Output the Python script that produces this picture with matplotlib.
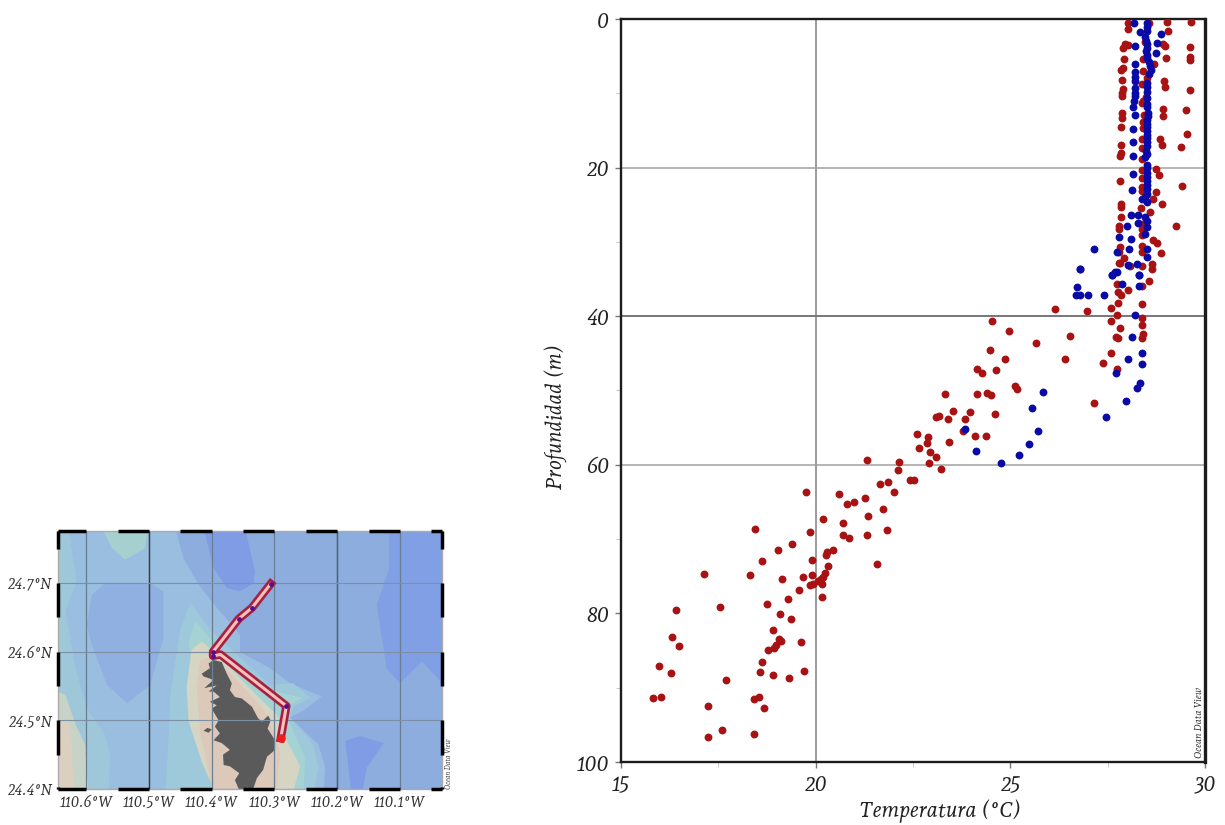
import matplotlib
matplotlib.use("Agg")
import matplotlib.pyplot as plt
from matplotlib.ticker import MultipleLocator

plt.rcParams['font.family'] = ['Andada Pro', 'Liberation Serif', 'DejaVu Serif']
plt.rcParams['font.style'] = 'italic'

red_pairs = [
(19.74,63.6),(18.45,68.6),(20.60,63.9),(20.80,65.3),(20.98,65.0),(21.26,64.5),(21.66,62.6),(21.87,62.3),(22.02,63.7),(21.74,65.9),
(21.34,66.85),(20.18,67.3),(20.69,67.9),(19.86,69.0),(20.69,69.4),(20.85,69.8),(21.33,69.4),(21.83,68.8),(19.40,70.7),(19.03,71.4),
(18.63,72.9),(19.91,72.8),(20.45,71.5),(20.28,71.8),(20.27,72.2),(20.31,73.6),(21.58,73.3),(17.14,74.7),(18.32,74.8),(19.13,75.4),
(19.68,75.1),(19.91,74.8),(20.24,74.5),(20.2,75.1),(20.13,75.4),(20.07,75.7),(20.15,76.05),(19.94,76.1),(19.85,76.2),(19.57,76.9),
(19.29,78.1),(20.16,77.8),(18.76,78.7),(17.53,79.2),(16.4,79.6),(19.08,80.1),(19.37,80.8),(18.9,82.2),(16.3,83.2),(16.5,84.4),
(19.07,83.4),(19.12,83.7),(18.97,84.3),(18.93,84.7),(18.78,84.9),(19.62,83.9),(18.63,86.5),(15.98,87.1),(18.56,87.9),(16.29,88.0),
(18.9,88.3),(19.32,88.7),(19.69,87.8),(17.69,89.0),(16.02,91.2),(15.83,91.4),(18.54,91.2),(18.42,91.5),(17.23,92.5),(18.68,92.7),
(17.59,95.7),(17.23,96.6),(18.42,96.2),
(26.15,39.0),(24.54,40.7),(24.96,42.0),(25.67,43.6),(24.48,44.5),(24.87,45.8),(24.15,47.1),(24.27,47.6),(24.64,47.3),(25.12,49.4),
(25.16,49.8),(23.33,50.5),(24.14,50.5),(24.41,50.4),(24.5,50.6),(23.54,52.8),(23.97,52.9),(24.6,53.1),(23.08,53.5),(23.18,53.4),
(23.41,53.8),(23.83,53.9),(23.78,55.5),(22.59,55.9),(22.88,56.3),(22.87,57.1),(24.09,56.1),(24.37,56.1),(23.43,56.9),(22.65,57.8),
(22.93,58.3),(23.08,59.0),(21.33,59.3),(22.15,59.6),(22.91,59.7),(22.12,60.7),(23.22,60.5),(22.42,62.0),(22.52,62.1),
(26.96,39.35),(27.58,38.9),(27.77,38.2),(27.75,39.8),(27.59,40.7),(28.38,38.4),(28.38,40.3),(28.38,41.2),(27.81,41.6),(28.41,42.4),
(27.72,42.85),(27.76,43.0),(28.38,43.0),(26.52,42.6),(26.41,45.7),(27.59,45.0),(27.37,46.3),(27.74,47.1),(27.14,51.7),(28.55,35.2),
(28.01,36.5),(27.76,36.8),(27.84,37.1),(27.75,35.6),(28.38,36.0),(27.82,32.9),(28.08,33.3),(28.38,33.25),(28.65,33.0),(28.63,33.6),
(28.02,0.5),(28.55,0.5),(29.02,0.4),(29.63,0.4),(28.02,1.3),(29.04,1.6),(28.46,3.05),(27.95,3.3),(28.01,3.5),(27.89,3.85),
(28.93,3.3),(28.98,3.7),(29.62,3.8),(29.62,5.1),(29.62,5.5),(27.93,5.4),(28.42,5.4),(28.99,5.3),(28.7,6.0),(27.89,6.6),
(27.84,6.9),(28.42,6.95),(28.52,8.0),(27.88,8.2),(28.95,8.3),(28.39,8.75),(28.98,9.1),(27.89,9.4),(29.62,9.5),(27.86,9.9),
(27.86,10.3),(28.49,10.5),(28.42,11.0),(28.38,11.25),(28.91,12.1),(29.5,12.25),(28.91,13.0),(27.86,12.7),(27.86,13.3),(28.43,12.9),
(28.42,13.8),(27.84,14.5),(28.42,14.7),(29.53,15.5),(28.85,16.1),(28.38,16.2),(28.9,16.9),(27.84,17.0),(29.38,17.2),(28.39,17.4),
(27.84,18.0),(27.82,18.5),(28.38,18.9),(28.75,20.2),(28.38,20.3),(28.83,21.0),(27.82,21.8),(28.38,21.4),(29.42,22.5),(28.38,22.6),
(28.38,23.1),(28.73,23.3),(28.66,24.2),(28.36,25.5),(27.85,24.9),(28.89,24.9),(27.84,25.3),(28.59,26.0),(27.85,26.6),(29.26,27.8),
(27.8,27.8),(27.8,28.3),(28.38,27.6),(28.38,28.3),(28.38,29.1),(28.67,29.8),(28.76,30.1),(27.82,30.7),(28.38,30.6),(28.38,31.3),
(28.88,31.5),(27.78,31.3),(27.92,32.1),(27.79,32.9),
]
blue_pairs = [
(25.85,50.2),(25.55,52.4),(25.71,55.4),(23.84,55.2),(24.13,58.2),(25.47,57.2),(25.22,58.7),(24.75,59.8),
(26.79,33.65),(27.6,34.5),(27.73,34.0),(26.7,36.1),(26.69,37.2),(26.79,37.2),(27.0,37.2),(27.4,37.2),(27.88,35.7),(28.3,34.5),
(28.3,36.0),(28.21,39.9),(28.12,42.8),(28.37,44.9),(28.02,45.8),(28.37,46.5),(27.72,47.7),(28.33,49.0),(28.26,49.7),(27.96,51.4),
(27.45,53.5),(28.18,0.5),(28.5,0.5),(28.33,1.8),(28.5,1.6),(28.86,2.0),(28.76,3.2),(28.2,3.6),(28.73,4.6),(28.2,6.0),
(28.61,6.9),(28.2,7.2),(28.2,7.8),(28.2,8.3),(28.2,9.3),(28.2,9.9),(28.19,10.4),(28.18,11.1),(28.16,11.8),(28.19,12.9),
(28.16,14.8),(28.14,16.5),(28.14,18.5),(28.14,20.8),(28.12,23.0),(28.1,26.4),(28.0,27.8),(28.29,27.5),(28.09,29.6),(27.78,29.4),
(28.06,31.0),(27.73,31.4),(28.01,33.1),(27.6,34.5),(27.69,34.0),(28.31,34.5),(27.14,30.9),(26.79,33.6),
(28.5,1.1),(28.47,2.4),(28.48,2.9),(28.5,3.4),(28.5,3.9),(28.48,4.3),(28.5,4.8),(28.52,5.2),(28.56,5.8),(28.58,6.3),
(28.55,7.4),(28.52,8.6),(28.5,9.2),(28.52,9.8),(28.5,10.6),(28.52,11.4),(28.5,11.9),(28.54,12.6),(28.53,13.1),(28.52,13.6),
(28.5,14.1),(28.52,14.6),(28.52,15.1),(28.5,15.6),(28.52,16.0),(28.52,16.6),(28.5,17.1),(28.48,17.7),(28.5,18.2),(28.47,18.6),
(28.5,19.6),(28.52,20.1),(28.5,20.7),(28.52,21.2),(28.5,21.8),(28.5,22.3),(28.5,22.9),(28.5,23.5),(28.45,24.0),(28.5,24.6),
(28.38,24.2),(28.45,26.7),(28.5,27.2),(28.5,28.0),(28.45,29.0),(28.5,30.9),(28.28,26.4),(28.5,32.0),(28.25,33.0),
]
red_temp = [p[0] for p in red_pairs]
red_depth = [p[1] for p in red_pairs]
blue_temp = [p[0] for p in blue_pairs]
blue_depth = [p[1] for p in blue_pairs]

# bathymetry regions, deepest first: lon/lat outlines
base_color = '#8dadde'
deep_top = [(-110.413,24.78),(-110.347,24.78),(-110.331,24.717),(-110.333,24.700),(-110.355,24.688),(-110.376,24.693),(-110.397,24.722)]
deep_right = [(-110.118,24.78),(-110.025,24.78),(-110.025,24.547),(-110.065,24.586),(-110.100,24.554),(-110.121,24.576),(-110.127,24.610),(-110.137,24.668),(-110.117,24.722)]
deep_bottom = [(-110.187,24.470),(-110.164,24.477),(-110.126,24.467),(-110.153,24.431),(-110.161,24.39),(-110.177,24.39)]
light_zone = [(-110.458,24.78),(-110.445,24.736),(-110.421,24.698),(-110.400,24.673),(-110.355,24.625),(-110.355,24.600),(-110.307,24.576),(-110.275,24.554),(-110.225,24.535),(-110.251,24.516),(-110.275,24.504),(-110.230,24.465),(-110.219,24.431),(-110.222,24.39),(-110.7,24.39),(-110.7,24.78)]
mid_lobe = [(-110.591,24.683),(-110.570,24.700),(-110.498,24.700),(-110.477,24.688),(-110.477,24.620),(-110.498,24.552),(-110.535,24.525),(-110.567,24.552),(-110.591,24.610),(-110.599,24.639)]
teal_left = [(-110.628,24.78),(-110.615,24.702),(-110.633,24.659),(-110.617,24.576),(-110.599,24.518),(-110.570,24.479),(-110.562,24.450),(-110.564,24.39),(-110.7,24.39),(-110.7,24.78)]
green_top = [(-110.575,24.78),(-110.501,24.78),(-110.506,24.751),(-110.538,24.734),(-110.559,24.751)]
teal_center = [(-110.474,24.39),(-110.469,24.470),(-110.466,24.537),(-110.450,24.634),(-110.434,24.671),(-110.400,24.630),(-110.360,24.596),(-110.307,24.552),(-110.270,24.554),(-110.243,24.533),(-110.270,24.520),(-110.275,24.504),(-110.238,24.465),(-110.230,24.431),(-110.238,24.39)]
green_center = [(-110.400,24.39),(-110.408,24.470),(-110.426,24.547),(-110.437,24.615),(-110.426,24.644),(-110.400,24.617),(-110.381,24.586),(-110.317,24.547),(-110.275,24.537),(-110.254,24.533),(-110.275,24.523),(-110.278,24.501),(-110.251,24.445),(-110.254,24.39)]
tan_center = [(-110.392,24.39),(-110.416,24.440),(-110.437,24.499),(-110.440,24.549),(-110.432,24.603),(-110.416,24.615),(-110.400,24.603),(-110.381,24.586),(-110.323,24.532),(-110.296,24.508),(-110.280,24.470),(-110.259,24.433),(-110.272,24.39)]
pink_center = [(-110.397,24.39),(-110.418,24.481),(-110.424,24.549),(-110.418,24.588),(-110.397,24.593),(-110.365,24.564),(-110.317,24.515),(-110.296,24.471),(-110.291,24.452),(-110.299,24.39)]
tan_left = [(-110.7,24.562),(-110.633,24.537),(-110.617,24.494),(-110.602,24.465),(-110.596,24.39),(-110.7,24.39)]
pink_left = [(-110.7,24.518),(-110.628,24.499),(-110.623,24.465),(-110.620,24.39),(-110.7,24.39)]

regions = [
    (light_zone, '#99bedf'), (mid_lobe, '#8fb0e0'), (deep_top, '#7f9ce4'), (deep_right, '#819fe4'),
    (deep_bottom, '#7f9ce4'), (teal_left, '#9ec7da'), (green_top, '#a6cfd0'), (teal_center, '#9ec9da'),
    (green_center, '#a5d2d2'), (tan_center, '#d6d4c2'), (pink_center, '#dcc9ba'),
    (tan_left, '#c8d3c8'), (pink_left, '#dbcfc0'),
]

land_lon = [-110.397,-110.384,-110.376,-110.368,-110.371,-110.363,-110.352,-110.336,-110.326,-110.320,-110.310,-110.306,-110.311,-110.299,-110.299,-110.312,-110.318,-110.328,-110.334,-110.357,-110.363,-110.356,-110.371,-110.381,-110.382,-110.371,-110.384,-110.397,-110.387,-110.395,-110.389,-110.400,-110.392,-110.403,-110.387,-110.397,-110.405,-110.392,-110.412,-110.397,-110.413,-110.416,-110.403,-110.405]
land_lat = [24.588,24.585,24.568,24.554,24.544,24.534,24.532,24.520,24.503,24.498,24.507,24.500,24.488,24.471,24.457,24.447,24.428,24.416,24.400,24.400,24.413,24.423,24.433,24.435,24.450,24.457,24.467,24.471,24.481,24.491,24.500,24.517,24.522,24.527,24.534,24.542,24.542,24.551,24.547,24.559,24.564,24.568,24.576,24.583]
islet_lon = [-110.413,-110.407,-110.400,-110.405]
islet_lat = [24.485,24.489,24.487,24.482]

track_lon = [-110.306,-110.336,-110.357,-110.398,-110.398,-110.386,-110.281,-110.290]
track_lat = [24.699,24.664,24.648,24.600,24.594,24.596,24.521,24.474]
station_lon = [-110.306,-110.336,-110.357,-110.398,-110.398,-110.281]
station_lat = [24.699,24.664,24.648,24.600,24.594,24.521]
end_lon = [-110.290]
end_lat = [24.474]

lon_ticks = [-110.6,-110.5,-110.4,-110.3,-110.2,-110.1]
lon_labels = ['110.6°W','110.5°W','110.4°W','110.3°W','110.2°W','110.1°W']
lat_ticks = [24.4,24.5,24.6,24.7]
lat_labels = ['24.4°N','24.5°N','24.6°N','24.7°N']
top_dash_lon = [(-110.645,-110.6),(-110.55,-110.5),(-110.45,-110.4),(-110.35,-110.3),(-110.25,-110.2),(-110.15,-110.1),(-110.05,-110.033)]
side_dash_lat = [(24.7,24.65),(24.6,24.55),(24.5,24.45),(24.4,24.403),(24.776,24.75)]

temp_ticks = [15,20,25,30]
depth_ticks = [0,20,40,60,80,100]

W, H = 1225, 825
fig = plt.figure(figsize=(W/100, H/100), dpi=100)

# profile panel
ax = fig.add_axes([621/W, 1-762/H, (1205-621)/W, (762-19)/H])
ax.set_xlim(15, 30)
ax.set_ylim(100, 0)
ax.set_xticks(temp_ticks)
ax.set_yticks(depth_ticks)
ax.xaxis.set_minor_locator(MultipleLocator(2.5))
ax.yaxis.set_minor_locator(MultipleLocator(10))
ax.tick_params(which='major', length=4.5, width=1, color='#777777', labelsize=15, pad=4, labelcolor='#222222')
ax.tick_params(which='minor', length=3.5, width=0.8, color='#cccccc')
ax.vlines(20, 0, 100, color='#8a8a8a', lw=1.2, zorder=1)
ax.hlines([20, 60], 15, 30, color='#a0a0a0', lw=1.1, zorder=1)
ax.hlines([40], 15, 30, color='#777777', lw=1.4, zorder=1)
ax.scatter(red_temp, red_depth, s=32, color='#a81212', zorder=3, lw=0)
ax.scatter(blue_temp, blue_depth, s=32, color='#0a0aa6', zorder=4, lw=0)
for name, s in ax.spines.items():
    s.set_linewidth(2.4 if name == 'right' else 1.7)
    s.set_color('#1c1c1c')
ax.set_xlabel('Temperatura (°C)', fontsize=15.5, color='#222222')
ax.xaxis.set_label_coords((940-621)/584, -(811-762)/743, transform=ax.transAxes)
ax.xaxis.label.set_verticalalignment('center')
ax.set_ylabel('Profundidad (m)', fontsize=15, color='#222222')
ax.yaxis.set_label_coords(-(621-557)/584, 1-(417-19)/743, transform=ax.transAxes)
ax.yaxis.label.set_verticalalignment('center')
ax.text(0.990, 0.005, 'Ocean Data View', transform=ax.transAxes, rotation=90,
        ha='center', va='bottom', fontsize=7, color='#333333')

# map panel
m = fig.add_axes([58/W, 1-789/H, (442-58)/W, (789-531)/H])
m.set_xlim(-110.645, -110.033)
m.set_ylim(24.4, 24.776)
m.set_facecolor(base_color)
for outline, colour in regions:
    m.fill([p[0] for p in outline], [p[1] for p in outline], color=colour, lw=0, zorder=1)
m.fill(land_lon, land_lat, color='#5a5a5a', lw=0, zorder=2)
m.fill(islet_lon, islet_lat, color='#5a5a5a', lw=0, zorder=2)
m.vlines(lon_ticks, 24.4, 24.776, color='#6a7e92', lw=0.9, zorder=3)
m.vlines([-110.5], 24.4, 24.776, color='#33404a', lw=1.0, zorder=3)
m.vlines([-110.2], 24.4, 24.776, color='#4f6070', lw=1.0, zorder=3)
m.hlines(lat_ticks, -110.645, -110.033, color='#7c8fa4', lw=0.8, zorder=3)
m.plot(track_lon, track_lat, color='#a8203f', lw=6, zorder=4, solid_joinstyle='round')
m.plot(track_lon, track_lat, color='#f8c0bc', lw=2.2, zorder=5, solid_joinstyle='round')
m.scatter(station_lon, station_lat, s=12, color='#5a0a90', lw=0, zorder=6)
m.scatter(end_lon, end_lat, s=38, color='#ee1c1c', lw=0, zorder=6)
m.set_xticks(lon_ticks, lon_labels)
m.set_yticks(lat_ticks, lat_labels)
m.tick_params(length=0, labelsize=10.5, pad=4, labelcolor='#333333')
for s in m.spines.values():
    s.set_linewidth(1.0)
    s.set_color('#aaaaaa')
for a, b in top_dash_lon:
    m.plot([a, b], [24.776, 24.776], color='k', lw=2.5, clip_on=False, zorder=7, solid_capstyle='butt')
    m.plot([a, b], [24.4, 24.4], color='k', lw=2.5, clip_on=False, zorder=7, solid_capstyle='butt')
for a, b in side_dash_lat:
    m.plot([-110.645, -110.645], [a, b], color='k', lw=2.5, clip_on=False, zorder=7, solid_capstyle='butt')
    m.plot([-110.033, -110.033], [a, b], color='k', lw=2.5, clip_on=False, zorder=7, solid_capstyle='butt')
m.text(1.018, 0.0, 'Ocean Data View', transform=m.transAxes, rotation=90, ha='center', va='bottom',
       fontsize=5, color='#444444')

fig.savefig('out.png', dpi=100)
